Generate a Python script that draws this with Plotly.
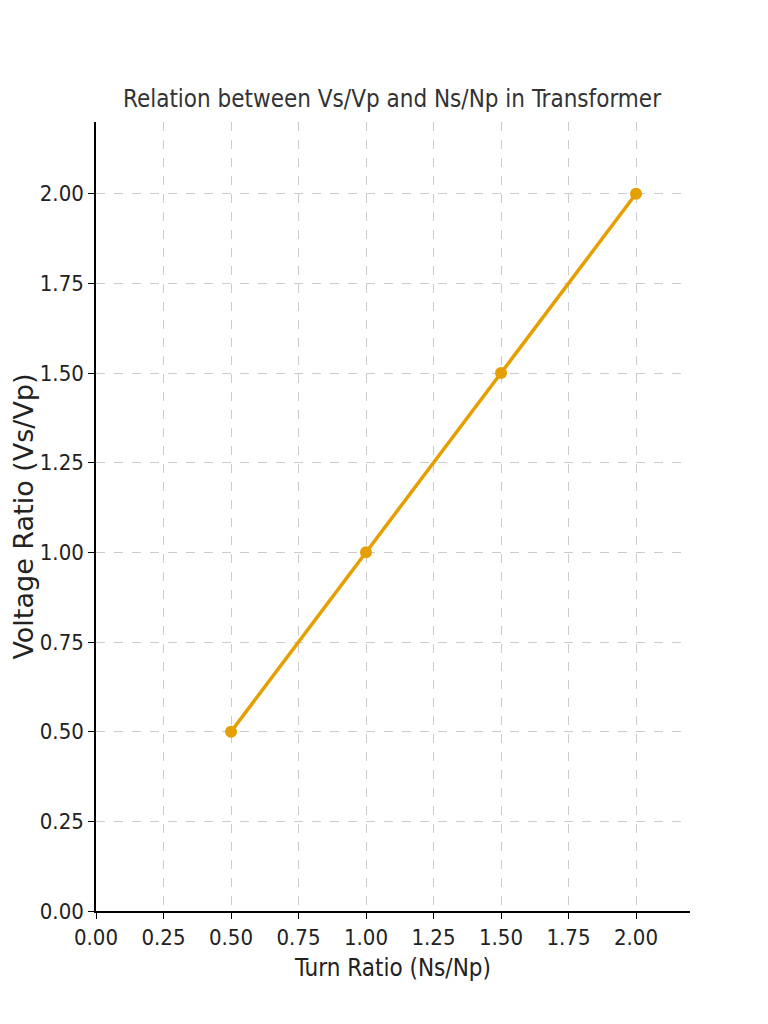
import plotly.graph_objects as go

turn_ratio = [0.5, 1.0, 1.5, 2.0]
voltage_ratio = [0.5, 1.0, 1.5, 2.0]

narrow = "Liberation Sans Narrow, DejaVu Sans Condensed, DejaVu Sans"

fig = go.Figure()
fig.add_trace(go.Scatter(x=turn_ratio, y=voltage_ratio, mode="lines+markers",
                         line=dict(color="#E69F00", width=3.5),
                         marker=dict(color="#E69F00", size=12)))

axis_style = dict(range=[0, 2.2], dtick=0.25, tick0=0, tickformat=".2f",
                  showgrid=True, gridcolor="#cccccc", griddash="dash", gridwidth=1,
                  showline=True, linecolor="black", linewidth=1.5,
                  ticks="outside", ticklen=6, tickcolor="black",
                  zeroline=False, mirror=False, automargin=False,
                  tickfont=dict(family=narrow, size=22, color="#222"))

fig.update_xaxes(**axis_style, title=dict(text="Turn Ratio (Ns/Np)", standoff=10,
                 font=dict(family=narrow, size=24, color="#222")))
fig.update_yaxes(**axis_style, title=dict(text="Voltage Ratio (Vs/Vp)", standoff=2,
                 font=dict(family="DejaVu Sans", size=27, color="#222")))

fig.update_layout(
    width=768, height=1024,
    margin=dict(l=88, r=86, t=114, b=121),
    plot_bgcolor="white", paper_bgcolor="white",
    showlegend=False,
    title=dict(text="Relation between Vs/Vp and Ns/Np in Transformer",
               x=0.5, xanchor="center", y=0.912, yanchor="middle",
               font=dict(family=narrow, size=24, color="#333")),
)

fig.write_html("out.html")
